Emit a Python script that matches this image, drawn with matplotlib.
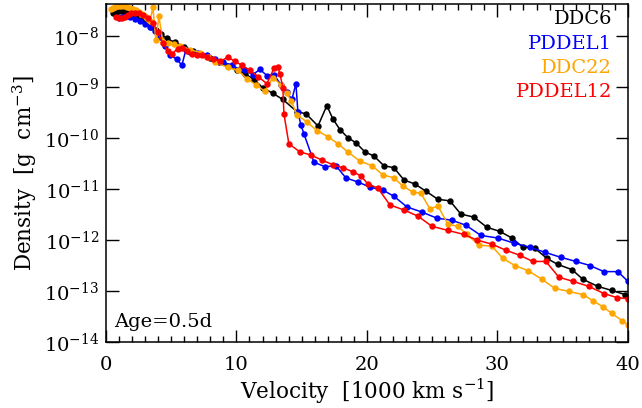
import numpy as np
import matplotlib
matplotlib.use('Agg')
import matplotlib.pyplot as plt
from matplotlib.ticker import MultipleLocator, LogLocator, NullLocator

plt.rcParams['font.family'] = ['DejaVu Serif']
plt.rcParams['mathtext.fontset'] = 'dejavuserif'

# velocity [1000 km/s] and log10 density [g cm^-3]
v_ddc6 = [0.54, 0.77, 1.00, 1.23, 1.46, 1.69, 1.99, 2.30, 2.68, 3.07, 3.45, 3.83, 4.21, 4.67,
          5.29, 5.98, 6.67, 7.28, 7.97, 8.66, 9.35, 10.03, 10.65, 11.34, 12.03, 12.80, 13.56,
          14.64, 15.33, 16.25, 16.93, 17.39, 17.93, 18.54, 19.16, 19.85, 20.54, 21.30, 22.07,
          22.84, 23.68, 24.52, 25.44, 26.36, 27.20, 28.20, 29.20, 30.19, 31.11, 31.95, 32.87,
          33.79, 34.64, 35.71, 36.55, 37.70, 38.77, 39.77]
lr_ddc6 = [-7.55, -7.53, -7.51, -7.51, -7.53, -7.55, -7.59, -7.63, -7.68, -7.74, -7.82, -7.88,
           -7.96, -8.04, -8.12, -8.20, -8.28, -8.35, -8.43, -8.51, -8.59, -8.67, -8.73, -8.85,
           -9.01, -9.12, -9.24, -9.48, -9.52, -9.76, -9.36, -9.62, -9.83, -9.99, -10.09, -10.27,
           -10.35, -10.54, -10.58, -10.82, -10.90, -11.04, -11.20, -11.23, -11.49, -11.55,
           -11.75, -11.83, -11.96, -12.14, -12.16, -12.36, -12.48, -12.58, -12.77, -12.91,
           -12.99, -13.07]

v_pddel1 = [1.00, 1.23, 1.53, 1.84, 2.22, 2.61, 2.99, 3.37, 3.75, 4.14, 4.52, 4.90, 5.44, 5.82,
            6.13, 6.44, 7.05, 7.74, 8.35, 8.97, 9.66, 10.27, 10.65, 11.26, 11.80, 12.34, 12.87,
            13.41, 13.87, 14.25, 14.56, 14.71, 14.94, 15.17, 15.94, 16.78, 17.62, 18.39, 19.31,
            20.23, 21.23, 22.07, 23.07, 24.21, 25.36, 26.51, 27.59, 28.74, 30.04, 31.26, 32.49,
            33.64, 34.87, 36.02, 37.09, 38.16, 39.23, 40.00]
lr_pddel1 = [-7.64, -7.63, -7.61, -7.63, -7.66, -7.70, -7.76, -7.82, -7.90, -8.02, -8.18, -8.37,
             -8.45, -8.57, -8.26, -8.30, -8.32, -8.37, -8.45, -8.51, -8.57, -8.65, -8.67, -8.75,
             -8.65, -8.77, -8.75, -8.95, -9.10, -9.24, -8.93, -9.48, -9.74, -9.91, -10.47,
             -10.56, -10.54, -10.78, -10.86, -10.96, -11.02, -11.14, -11.35, -11.45, -11.57,
             -11.61, -11.71, -11.91, -11.96, -12.06, -12.14, -12.24, -12.34, -12.42, -12.50,
             -12.62, -12.62, -12.81]

v_ddc22 = [0.38, 0.54, 0.69, 0.84, 1.00, 1.15, 1.38, 1.61, 1.84, 2.07, 2.30, 2.53, 2.76, 2.99,
           3.22, 3.37, 3.60, 3.83, 4.06, 4.37, 4.75, 5.21, 5.67, 6.44, 7.20, 7.82, 8.35, 9.35,
           10.11, 10.80, 11.49, 12.18, 12.80, 13.41, 13.87, 14.18, 14.64, 15.40, 16.17, 17.01,
           17.78, 18.54, 19.46, 20.38, 21.23, 22.07, 22.76, 23.52, 24.14, 24.83, 25.44, 26.21,
           26.97, 27.66, 28.58, 29.58, 30.42, 31.34, 32.34, 33.41, 34.41, 35.48, 36.55, 37.32,
           38.08, 38.77, 39.54, 40.00]
lr_ddc22 = [-7.47, -7.45, -7.43, -7.41, -7.41, -7.41, -7.41, -7.43, -7.45, -7.47, -7.49, -7.53,
            -7.57, -7.61, -7.66, -7.70, -7.43, -8.08, -7.61, -8.12, -8.14, -8.16, -8.18, -8.26,
            -8.32, -8.41, -8.51, -8.61, -8.67, -8.83, -8.95, -9.08, -8.81, -8.95, -9.12, -9.26,
            -9.54, -9.68, -9.85, -9.97, -10.11, -10.27, -10.45, -10.54, -10.72, -10.78, -10.94,
            -11.06, -11.08, -11.39, -11.33, -11.69, -11.73, -11.89, -12.10, -12.12, -12.36,
            -12.50, -12.60, -12.77, -12.95, -13.01, -13.07, -13.19, -13.31, -13.44, -13.58,
            -13.66]

v_pddel12 = [0.77, 1.00, 1.23, 1.46, 1.69, 1.92, 2.22, 2.53, 2.84, 3.22, 3.60, 3.98, 4.37, 4.75,
             5.06, 5.52, 5.82, 6.21, 6.59, 6.97, 7.36, 7.74, 8.20, 8.74, 9.35, 9.89, 10.42,
             11.03, 11.65, 12.34, 12.87, 13.18, 13.33, 13.56, 13.64, 14.02, 14.87, 15.71, 16.55,
             17.39, 18.16, 18.93, 19.54, 20.08, 20.84, 21.76, 22.84, 23.91, 24.98, 26.21, 27.43,
             28.43, 29.58, 30.65, 31.72, 32.72, 33.72, 34.71, 35.79, 37.01, 38.16, 39.16, 40.00]
lr_pddel12 = [-7.63, -7.64, -7.64, -7.63, -7.59, -7.55, -7.55, -7.55, -7.59, -7.64, -7.74, -7.92,
              -8.14, -8.28, -8.34, -8.24, -8.22, -8.28, -8.34, -8.36, -8.37, -8.41, -8.45, -8.49,
              -8.41, -8.49, -8.57, -8.67, -8.79, -8.93, -8.63, -8.61, -8.73, -9.01, -9.52,
              -10.11, -10.27, -10.33, -10.43, -10.52, -10.58, -10.66, -10.74, -10.90, -10.98,
              -11.31, -11.41, -11.53, -11.73, -11.81, -11.89, -12.00, -12.08, -12.20, -12.30,
              -12.42, -12.42, -12.73, -12.81, -12.91, -13.05, -13.13, -13.15]

models = ['DDC6', 'PDDEL1', 'DDC22', 'PDDEL12']
colors = ['black', 'blue', 'orange', 'red']
vels = [v_ddc6, v_pddel1, v_ddc22, v_pddel12]
dens = [lr_ddc6, lr_pddel1, lr_ddc22, lr_pddel12]

fig = plt.figure(figsize=(6.42, 4.08), dpi=100)
ax = fig.add_axes([0.165, 0.162, 0.813, 0.828])

for v, lr, c in zip(vels, dens, colors):
    ax.plot(v, 10**np.array(lr), '-o', color=c, lw=1.1, ms=4.6, mec=c, mew=0)

ax.set_yscale('log')
ax.set_xlim(0, 40)
ax.set_ylim(1e-14, 4.3e-8)
ax.xaxis.set_major_locator(MultipleLocator(10))
ax.xaxis.set_minor_locator(MultipleLocator(1))
ax.yaxis.set_major_locator(LogLocator(base=10, numticks=20))
ax.yaxis.set_minor_locator(NullLocator())
ax.tick_params(which='both', direction='in', top=True, right=True, labelsize=14, width=1.0)
ax.tick_params(which='major', length=9)
ax.tick_params(which='minor', length=4.5)
ax.tick_params(axis='x', pad=10)
ax.tick_params(axis='y', pad=5)
for s in ax.spines.values():
    s.set_linewidth(1.1)

ax.set_xlabel('Velocity  [1000 km s$^{-1}$]', fontsize=15.5)
ax.set_ylabel('Density  [g  cm$^{-3}$]', fontsize=15.5)
ax.xaxis.set_label_coords(0.5, -0.102)
ax.yaxis.set_label_coords(-0.128, 0.5)

for i, (m, c) in enumerate(zip(models, colors)):
    ax.text(0.97, 0.955 - i * 0.072, m, color=c, fontsize=14, ha='right', va='center',
            transform=ax.transAxes)
ax.text(0.015, 0.06, 'Age=0.5d', fontsize=14, ha='left', va='center', transform=ax.transAxes)

fig.savefig('out.png', dpi=100)
